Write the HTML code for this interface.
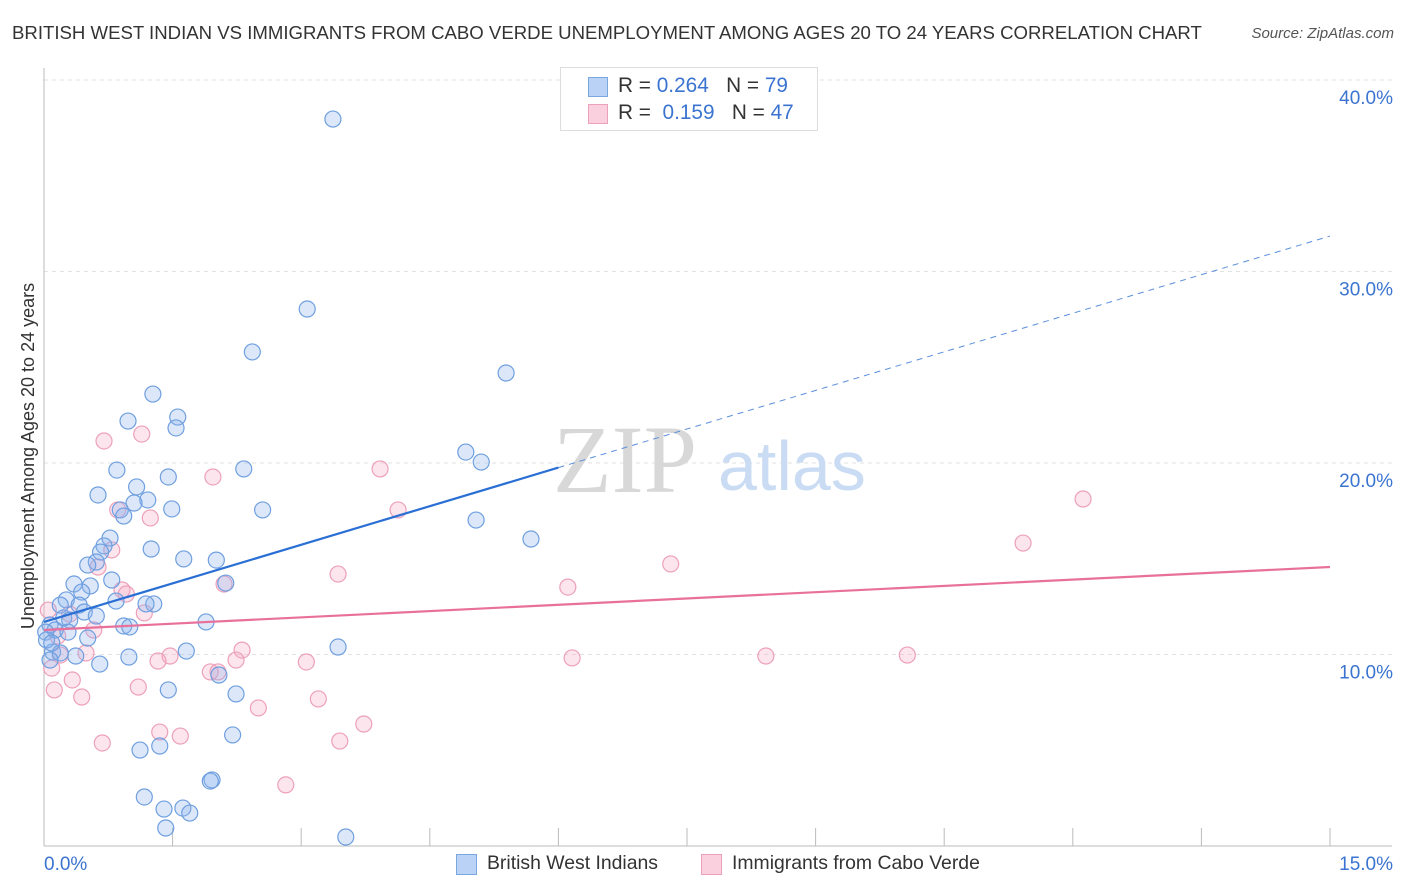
<!DOCTYPE html>
<html><head><meta charset="utf-8">
<style>
body{margin:0;background:#fff;font-family:"Liberation Sans",sans-serif;}
#wrap{position:relative;width:1406px;height:892px;overflow:hidden;}
.t{position:absolute;white-space:nowrap;}
</style></head>
<body>
<div id="wrap">
<div class="t" style="left:12px;top:22px;font-size:18.6px;color:#333;">BRITISH WEST INDIAN VS IMMIGRANTS FROM CABO VERDE UNEMPLOYMENT AMONG AGES 20 TO 24 YEARS CORRELATION CHART</div>
<div class="t" style="right:12px;top:25px;font-size:15px;color:#555;font-style:italic;">Source: ZipAtlas.com</div>
<svg id="plot" width="1406" height="892" style="position:absolute;left:0;top:0;"></svg>
</div>
<script>
const blueX=[3.37,3.07,2.43,5.39,1.27,1.56,0.98,1.54,4.92,5.10,0.85,2.33,1.45,1.08,0.63,1.21,1.05,1.49,0.89,2.55,0.93,5.04,5.68,0.77,0.70,1.25,1.63,2.01,0.66,0.61,0.51,0.35,0.79,0.54,2.12,0.44,0.26,0.84,1.28,0.41,1.19,0.19,0.47,0.61,0.23,0.30,0.07,1.89,0.93,1.00,0.13,0.28,0.02,0.51,3.43,0.10,1.66,0.19,0.37,0.99,0.07,0.65,2.04,1.45,2.24,2.20,1.12,1.35,1.96,1.94,1.17,1.40,1.62,1.70,1.42,3.52,0.03,0.09];
const blueY=[37.96,28.04,25.80,24.70,23.60,22.40,22.19,21.83,20.57,20.05,19.63,19.69,19.27,18.75,18.33,18.07,17.91,17.60,17.55,17.55,17.23,17.02,16.03,16.08,15.67,15.51,14.99,14.93,15.35,14.83,14.67,13.68,13.89,13.58,13.73,13.26,12.85,12.79,12.64,12.58,12.64,12.58,12.22,12.01,11.91,11.80,11.54,11.70,11.49,11.44,11.28,11.17,11.17,10.86,10.39,10.13,10.18,10.08,9.92,9.87,9.71,9.50,8.93,8.15,7.94,5.80,5.01,5.22,3.45,3.39,2.56,1.93,1.98,1.72,0.94,0.47,10.76,10.60];
const pinkX=[0.70,1.14,1.97,3.92,12.12,4.13,0.86,1.24,0.79,11.42,0.63,7.31,3.43,2.10,6.11,0.91,0.96,1.17,0.30,0.05,0.58,0.16,0.49,0.19,2.31,6.16,8.42,10.07,1.47,3.06,1.33,2.24,1.94,2.03,0.09,0.33,0.12,1.10,0.44,3.20,2.50,3.73,1.35,1.59,0.68,3.45,2.82];
const pinkY=[21.15,21.51,19.27,19.69,18.12,17.55,17.55,17.13,15.46,15.82,14.57,14.73,14.20,13.68,13.52,13.37,13.16,12.17,12.11,12.32,11.28,10.97,10.08,9.97,10.23,9.82,9.92,9.97,9.92,9.61,9.66,9.71,9.09,9.09,9.29,8.67,8.15,8.30,7.78,7.68,7.21,6.37,5.95,5.74,5.38,5.48,3.19];
const blueTrend=[11.7,31.85];
const pinkTrend=[11.28,14.57];
const yTicks=[10,20,30,40];
const yTickLabels=["10.0%","20.0%","30.0%","40.0%"];
const xTicks=[0,1.5,3,4.5,6,7.5,9,10.5,12,13.5,15];

const X=v=>44+v*(1286/15);
const Y=v=>846-v*19.15;
const svg=document.getElementById('plot');
const NS='http://www.w3.org/2000/svg';
function mk(tag,attrs,parent){const e=document.createElementNS(NS,tag);for(const k in attrs)e.setAttribute(k,attrs[k]);(parent||svg).appendChild(e);return e;}

yTicks.forEach((v,i)=>{
  const g=mk('line',{x1:44,x2:1392,y1:Y(v),y2:Y(v),stroke:'#e2e2e2','stroke-dasharray':'4,4'});
  
  
  const t=mk('text',{x:1393,y:Y(v)+24,'text-anchor':'end','font-size':19,fill:'#3b74d0','font-family':'Liberation Sans'});
  t.textContent=yTickLabels[i];
  
  
});
const ax=mk('line',{x1:44,x2:44,y1:68,y2:846,stroke:'#bbb'});


const bx=mk('line',{x1:44,x2:1392,y1:846,y2:846,stroke:'#bbb'});


xTicks.forEach(v=>{
  const l=mk('line',{x1:X(v),x2:X(v),y1:828,y2:846,stroke:'#bbb'});
  
  
});
const w1=mk('text',{x:553,y:492,'font-size':96,fill:'#d8d8d8','font-family':'Liberation Serif'});
w1.textContent='ZIP';


const w2=mk('text',{x:718,y:490,'font-size':70,fill:'#c9dcf3','font-family':'Liberation Sans'});
w2.textContent='atlas';



function dots(xs,ys,fill,stroke,name){
  xs.forEach((x,i)=>{
    const c=mk('circle',{cx:X(x),cy:Y(ys[i]),r:8,fill:fill,stroke:stroke,'stroke-width':1.2});
    
    
  });
}
dots(pinkX,pinkY,'rgba(245,170,195,0.3)','#eda0ba','point-cabo-verde');
dots(blueX,blueY,'rgba(140,180,240,0.3)','#6f9fdf','point-british-west-indian');

const bs=blueTrend[0], be=blueTrend[1], xm=6;
const bm=bs+(be-bs)*xm/15;
const t1=mk('line',{x1:X(0),y1:Y(bs),x2:X(xm),y2:Y(bm),stroke:'#2a6fd4','stroke-width':2.2});


const t2=mk('line',{x1:X(xm),y1:Y(bm),x2:X(15),y2:Y(be),stroke:'#5a8fdc','stroke-width':1,'stroke-dasharray':'6,5'});


const t3=mk('line',{x1:X(0),y1:Y(pinkTrend[0]),x2:X(15),y2:Y(pinkTrend[1]),stroke:'#e8709a','stroke-width':2.2});



const xl0=mk('text',{x:44,y:870,'font-size':19,fill:'#3b74d0','font-family':'Liberation Sans'});
xl0.textContent='0.0%';


const xl1=mk('text',{x:1393,y:870,'text-anchor':'end','font-size':19,fill:'#3b74d0','font-family':'Liberation Sans'});
xl1.textContent='15.0%';


const yt=mk('text',{x:0,y:0,'font-size':18,fill:'#333','font-family':'Liberation Sans','text-anchor':'middle',transform:'translate(34,456) rotate(-90)'});
yt.textContent='Unemployment Among Ages 20 to 24 years';


</script>

<div class="t" style="left:560px;top:67px;width:256px;height:62px;border:1px solid #ddd;background:#fff;">
  <div style="position:absolute;left:27px;top:9px;width:18px;height:18px;background:#b9d2f5;border:1px solid #7aa7e0;"></div>
  <div class="t" style="left:57px;top:6px;font-size:20.8px;color:#333;">R = <span style="color:#3b74d0">0.264</span>&nbsp;&nbsp;&nbsp;N = <span style="color:#3b74d0">79</span></div>
  <div style="position:absolute;left:27px;top:36px;width:18px;height:18px;background:#fbd0de;border:1px solid #eda0ba;"></div>
  <div class="t" style="left:57px;top:33px;font-size:20.8px;color:#333;">R = &nbsp;<span style="color:#3b74d0">0.159</span>&nbsp;&nbsp;&nbsp;N = <span style="color:#3b74d0">47</span></div>
</div>

<div style="position:absolute;left:456px;top:854px;width:19px;height:19px;background:#b9d2f5;border:1px solid #7aa7e0;"></div>
<div class="t" style="left:487px;top:852px;font-size:19.4px;color:#333;">British West Indians</div>
<div style="position:absolute;left:701px;top:854px;width:19px;height:19px;background:#fbd0de;border:1px solid #eda0ba;"></div>
<div class="t" style="left:732px;top:852px;font-size:19.4px;color:#333;">Immigrants from Cabo Verde</div>
</body></html>
